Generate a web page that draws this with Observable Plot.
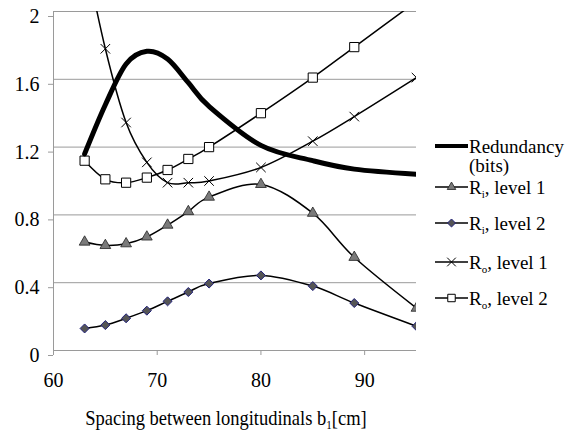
<!DOCTYPE html>
<html><head><meta charset="utf-8">
<script src="https://cdn.jsdelivr.net/npm/d3@7"></script>
<script src="https://cdn.jsdelivr.net/npm/@observablehq/plot@0.6"></script>
<style>
body{margin:0;background:#fff;font-family:"Liberation Serif",serif;}
#wrap{position:relative;width:572px;height:435px;overflow:hidden;font-family:"Liberation Serif",serif;}
#wrap svg.plot{position:absolute;left:0;top:0;}
#wrap svg text{font-family:"Liberation Serif",serif !important;}
.leg{position:absolute;left:435px;font-family:"Liberation Serif",serif;font-size:19px;color:#000;line-height:1;white-space:nowrap;display:flex;align-items:center;}
.leg svg{display:block;margin-right:1px;}
#xtitle span{display:inline-block;transform:scaleY(1.15);transform-origin:50% 60%;}
.leg sub,#xtitle sub{font-size:11px;vertical-align:-4px;line-height:0;}
#xtitle{position:absolute;left:0;width:452px;text-align:center;top:408px;font-size:18.5px;font-family:"Liberation Serif",serif;}
</style></head><body><div id="wrap"></div><script>
// ---- data ----
const xs = [63, 65, 67, 69, 71, 73, 75, 80, 85, 89, 95];
const redundancy = [1.16, 1.45, 1.69, 1.765, 1.72, 1.58, 1.44, 1.21, 1.12, 1.07, 1.04];
const riLevel1 = [0.64, 0.62, 0.63, 0.67, 0.74, 0.82, 0.905, 0.98, 0.81, 0.55, 0.25];
const riLevel2 = [0.13, 0.15, 0.19, 0.235, 0.29, 0.345, 0.395, 0.443, 0.38, 0.28, 0.143];
const roLevel1 = [2.35, 1.78, 1.345, 1.11, 0.99, 0.99, 1.0, 1.08, 1.235, 1.38, 1.61];
const roLevel2 = [1.12, 1.01, 0.99, 1.02, 1.065, 1.13, 1.20, 1.40, 1.61, 1.79, 2.06];
const xTicks = [60, 70, 80, 90];
const yTicks = [0, 0.4, 0.8, 1.2, 1.6, 2];

const rows = xs.map((x, i) => ({x, red: redundancy[i], ri1: riLevel1[i], ri2: riLevel2[i], ro1: roLevel1[i], ro2: roLevel2[i]}));

const diamond = {draw(ctx, size){ const r = Math.sqrt(size / 2); ctx.moveTo(0, -r); ctx.lineTo(r, 0); ctx.lineTo(0, r); ctx.lineTo(-r, 0); ctx.closePath(); }};

const lineOpts = {x: "x", curve: "cardinal", tension: 0, stroke: "#000", strokeWidth: 1.5, clip: true};
const grey = "#9a9a9a";
const serif = '"Liberation Serif", serif';

const plot = Plot.plot({
  width: 572, height: 435,
  marginLeft: 53, marginRight: 156, marginTop: 11, marginBottom: 85,
  x: {domain: [60, 95]},
  y: {domain: [0, 2]},
  style: {fontFamily: serif, background: "#fff"},
  marks: [
    Plot.gridY(yTicks, {stroke: grey, strokeOpacity: 1, strokeWidth: 1}),
    Plot.ruleX([60], {stroke: grey, strokeWidth: 1}),
    Plot.ruleY([0], {stroke: grey, strokeWidth: 1}),
    Plot.axisY(yTicks, {tickSize: 5, tickPadding: 9, dy: 5, fontSize: 20, fontFamily: serif, stroke: grey, fill: "#000", label: null, tickFormat: d => String(d)}),
    Plot.axisX(xTicks, {tickSize: 5, tickPadding: 17, fontSize: 20, fontFamily: serif, stroke: grey, fill: "#000", label: null}),
    Plot.line(rows, {...lineOpts, y: "ri1"}),
    Plot.line(rows, {...lineOpts, y: "ri2"}),
    Plot.line(rows, {...lineOpts, y: "ro1"}),
    Plot.line(rows, {...lineOpts, y: "ro2"}),
    Plot.dot(rows, {x: "x", y: "ri1", symbol: "triangle", r: 4, fill: "#7a7a7a", stroke: "#222", strokeWidth: 0.8, clip: true}),
    Plot.dot(rows, {x: "x", y: "ri2", symbol: diamond, r: 3.6, fill: "#555", stroke: "#22227a", strokeWidth: 1, clip: true}),
    Plot.dot(rows, {x: "x", y: "ro1", symbol: "times", r: 4.4, stroke: "#000", strokeWidth: 1, clip: true}),
    Plot.dot(rows, {x: "x", y: "ro2", symbol: "square", r: 5.2, fill: "#fff", stroke: "#000", strokeWidth: 1, clip: true}),
    Plot.line(rows, {x: "x", y: "red", curve: "cardinal", tension: 0, stroke: "#000", strokeWidth: 5, clip: true})
  ]
});
plot.classList.add("plot");
const wrap = document.getElementById("wrap");
wrap.appendChild(plot);

// ---- legend ----
function swatch(kind){
  const s = d3.create("svg").attr("width", 33).attr("height", 12);
  s.append("line").attr("x1", 0).attr("x2", 33).attr("y1", 6).attr("y2", 6).attr("stroke", "#000").attr("stroke-width", kind === "red" ? 4 : 1.5);
  const g = s.append("g").attr("transform", "translate(16.5,6)");
  if (kind === "ri1") g.append("path").attr("d", d3.symbol(d3.symbolTriangle, 3.2*3.2*Math.PI)()).attr("fill", "#7a7a7a").attr("stroke", "#222").attr("stroke-width", 0.8);
  if (kind === "ri2") g.append("path").attr("d", d3.symbol(diamond, 3.2*3.2*Math.PI)()).attr("fill", "#555").attr("stroke", "#22227a");
  if (kind === "ro1") g.append("path").attr("d", d3.symbol(d3.symbolTimes, 4*4*Math.PI)()).attr("stroke", "#000").attr("fill", "none");
  if (kind === "ro2") g.append("path").attr("d", d3.symbol(d3.symbolSquare, 4.2*4.2*Math.PI)()).attr("fill", "#fff").attr("stroke", "#000");
  return s.node();
}
const legendItems = [
  {kind: "red", html: "Redundancy", y: 146},
  {kind: "ri1", html: "R<sub>i</sub>, level 1", y: 187},
  {kind: "ri2", html: "R<sub>i</sub>, level 2", y: 223},
  {kind: "ro1", html: "R<sub>o</sub>, level 1", y: 262},
  {kind: "ro2", html: "R<sub>o</sub>, level 2", y: 298}
];
legendItems.forEach(it => {
  const d = document.createElement("div");
  d.className = "leg";
  d.style.top = (it.y - 11) + "px";
  d.style.height = "22px";
  d.appendChild(swatch(it.kind));
  const t = document.createElement("span");
  t.innerHTML = it.html;
  d.appendChild(t);
  wrap.appendChild(d);
});
const bits = document.createElement("div");
bits.className = "leg";
bits.style.left = "469px";
bits.style.top = "156px";
bits.innerHTML = "<span>(bits)</span>";
wrap.appendChild(bits);

const xt = document.createElement("div");
xt.id = "xtitle";
xt.innerHTML = "<span>Spacing between longitudinals b<sub>1</sub>[cm]</span>";
wrap.appendChild(xt);
</script></body></html>
